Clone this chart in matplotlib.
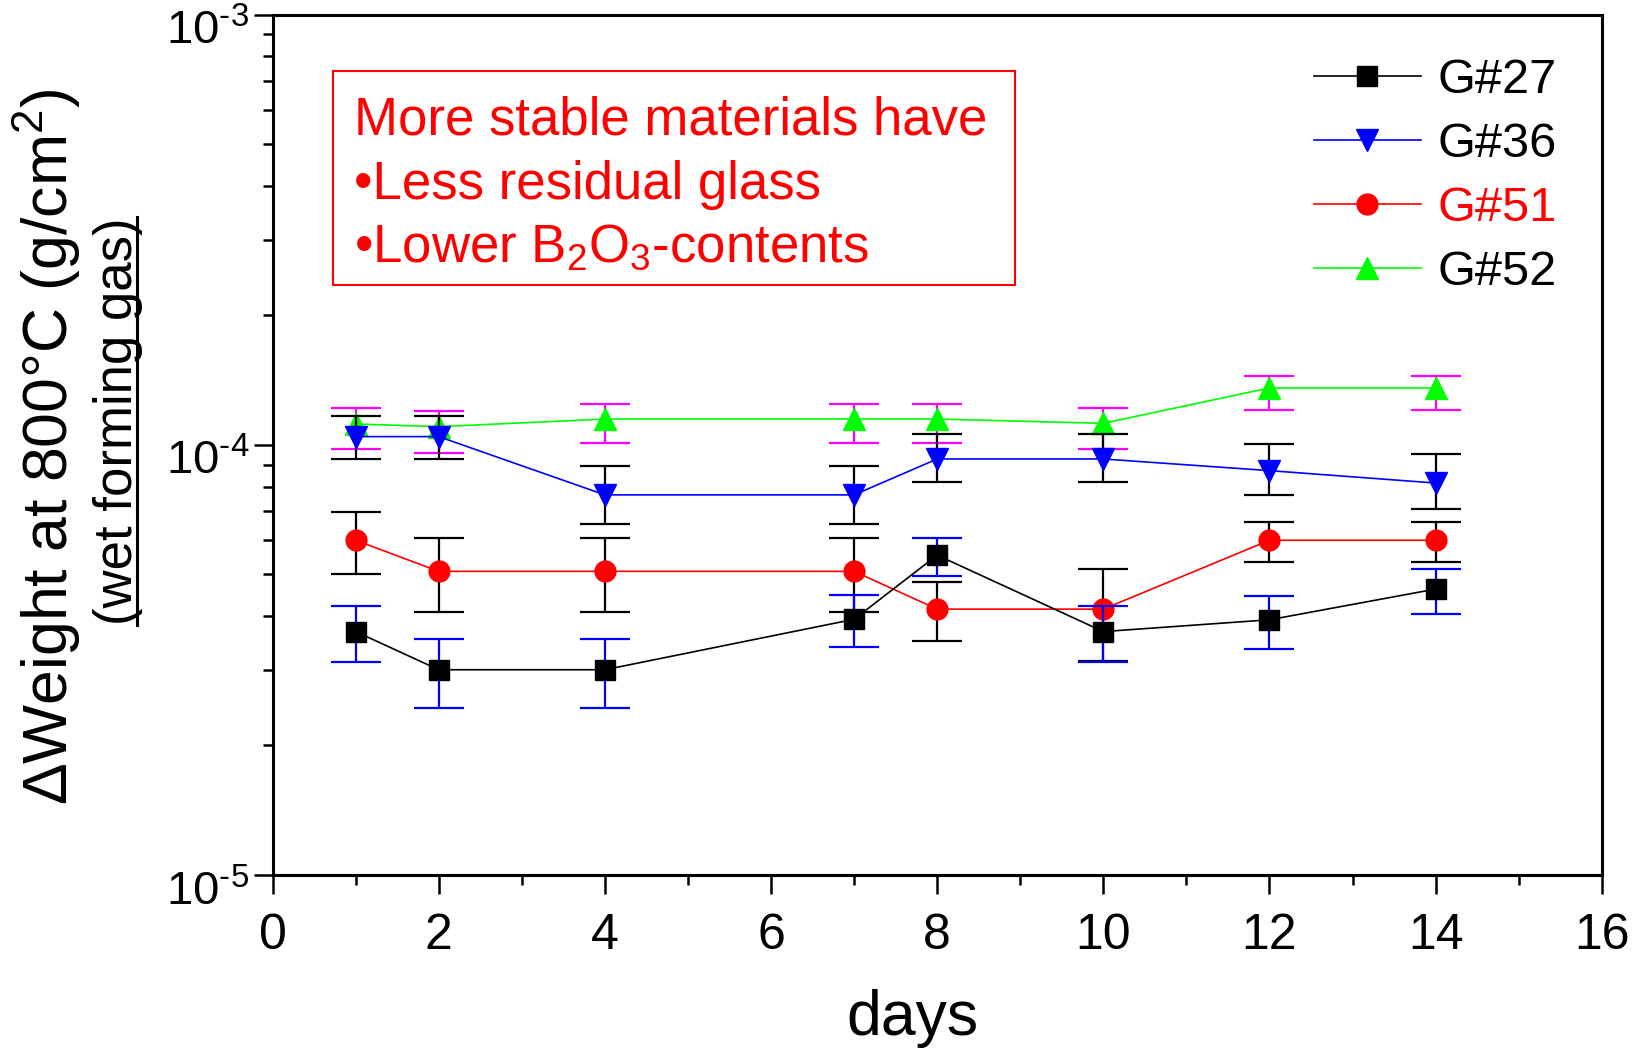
import matplotlib
matplotlib.use('Agg')
import matplotlib.pyplot as plt
import matplotlib.transforms as mtransforms
from matplotlib.ticker import MultipleLocator, NullFormatter, LogLocator, FuncFormatter
from matplotlib.lines import Line2D
from matplotlib.patches import Rectangle
import numpy as np

plt.rcParams['font.family'] = ['Liberation Sans', 'DejaVu Sans']
plt.rcParams['mathtext.fontset'] = 'custom'
plt.rcParams['mathtext.rm'] = 'Liberation Sans'
plt.rcParams['mathtext.it'] = 'Liberation Sans:italic'
plt.rcParams['mathtext.bf'] = 'Liberation Sans:bold'

# ---------------------------------------------------------------------------
# data
# ---------------------------------------------------------------------------
days = [1, 2, 4, 7, 8, 10, 12, 14]

g27    = [3.68e-5, 3.00e-5, 3.00e-5, 3.93e-5, 5.54e-5, 3.68e-5, 3.92e-5, 4.62e-5]
g27_lo = [3.13e-5, 2.44e-5, 2.44e-5, 3.38e-5, 4.96e-5, 3.13e-5, 3.35e-5, 4.04e-5]
g27_hi = [4.23e-5, 3.54e-5, 3.54e-5, 4.48e-5, 6.07e-5, 4.23e-5, 4.45e-5, 5.15e-5]

g36    = [1.045e-4, 1.045e-4, 7.65e-5, 7.65e-5, 9.27e-5, 9.27e-5, 8.71e-5, 8.15e-5]
g36_lo = [9.27e-5, 9.27e-5, 6.55e-5, 6.55e-5, 8.19e-5, 8.19e-5, 7.65e-5, 7.09e-5]
g36_hi = [1.167e-4, 1.167e-4, 8.93e-5, 8.93e-5, 1.061e-4, 1.061e-4, 1.005e-4, 9.51e-5]

g51    = [6.00e-5, 5.08e-5, 5.08e-5, 5.08e-5, 4.15e-5, 4.15e-5, 6.00e-5, 6.00e-5]
g51_lo = [5.00e-5, 4.08e-5, 4.08e-5, 4.08e-5, 3.49e-5, 3.15e-5, 5.35e-5, 5.35e-5]
g51_hi = [6.98e-5, 6.08e-5, 6.08e-5, 6.08e-5, 4.79e-5, 5.15e-5, 6.63e-5, 6.63e-5]

g52    = [1.118e-4, 1.102e-4, 1.148e-4, 1.148e-4, 1.148e-4, 1.122e-4, 1.356e-4, 1.356e-4]
g52_lo = [9.76e-5, 9.59e-5, 1.008e-4, 1.008e-4, 1.008e-4, 9.76e-5, 1.205e-4, 1.205e-4]
g52_hi = [1.216e-4, 1.199e-4, 1.246e-4, 1.246e-4, 1.247e-4, 1.216e-4, 1.447e-4, 1.447e-4]

labels = ['G#27', 'G#36', 'G#51', 'G#52']
note_lines = ['More stable materials have',
              '\u2022Less residual glass',
              '\u2022Lower B$_2$O$_3$-contents']

# style per series: line colour, marker, marker size, error-bar colour
SERIES = [
    (g27, g27_lo, g27_hi, '#000000', 's', 14, '#0000ff'),
    (g36, g36_lo, g36_hi, '#0000ff', 'v', 16, '#000000'),
    (g51, g51_lo, g51_hi, '#ff0000', 'o', 15, '#000000'),
    (g52, g52_lo, g52_hi, '#00ff00', '^', 16, '#ff00ff'),
]
ZORD = [5, 4, 3, 2]

fig = plt.figure(figsize=(16.41, 10.49), dpi=100)
ax = fig.add_axes([0.1661, 0.1659, 0.8100, 0.8201])

handles = []
for (vals, lo, hi, col, mk, ms, ecol), lab, z in zip(SERIES, labels, ZORD):
    err = [[v - l for v, l in zip(vals, lo)], [h - v for v, h in zip(vals, hi)]]
    ax.errorbar(days, vals, yerr=err, fmt='none', ecolor=ecol,
                elinewidth=1.6, capsize=18, capthick=1.6, zorder=z)
    ln, = ax.plot(days, vals, color=col, lw=1.2, marker=mk, ms=ms,
                  mfc=col, mec=col, label=lab, zorder=z + 0.5)
    handles.append(ln)

ax.set_yscale('log')
ax.set_ylim(1e-5, 1e-3)
ax.set_xlim(0, 16)
ax.xaxis.set_major_locator(MultipleLocator(2))
ax.xaxis.set_minor_locator(MultipleLocator(1))
ax.yaxis.set_minor_locator(LogLocator(base=10, subs=range(2, 10)))
ax.yaxis.set_minor_formatter(NullFormatter())
ax.yaxis.set_major_formatter(
    FuncFormatter(lambda v, pos: r'$10^{\text{-%d}}$' % int(round(-np.log10(v)))))

for s in ax.spines.values():
    s.set_linewidth(2.2)
ax.tick_params(which='major', direction='out', length=13.7, width=1.8)
ax.tick_params(which='minor', direction='out', length=7.5, width=1.8)
ax.tick_params(axis='x', labelsize=36, pad=14)
ax.tick_params(axis='y', labelsize=34, pad=3)

# y tick labels sit a little below their ticks in the original
shift = mtransforms.ScaledTranslation(0, -9 / 72, fig.dpi_scale_trans)
for t in ax.get_yticklabels():
    t.set_transform(t.get_transform() + shift)

ax.set_xlabel('days', fontsize=45)
ax.xaxis.set_label_coords(0.4811, -0.133)

leg = ax.legend(handles=handles, loc='upper right',
                bbox_to_anchor=(0.9664, 0.950), frameon=False,
                fontsize=35, handlelength=2.2, handletextpad=0.35,
                labelspacing=0.39, borderpad=0, borderaxespad=0, numpoints=1)
leg.get_texts()[2].set_color('#ff0000')

# note box
ax.add_patch(Rectangle((0.0455, 0.6858), 0.5131, 0.2488, transform=ax.transAxes,
                       fc='white', ec='#ff0000', lw=1.5, zorder=10))
for txt, yb in zip(note_lines, [0.8613, 0.7858, 0.7125]):
    ax.text(0.0615, yb, txt, transform=ax.transAxes, ha='left', va='baseline',
            fontsize=38, color='#ff0000', zorder=11)

# y label (two lines, the second one underlined)
fig.text(0.0286, 0.5739, '\u0394Weight at 800\u00b0C (g/cm$^2$)',
         rotation=90, ha='center', va='center', fontsize=45)
sub = fig.text(0.0719, 0.5987, '(wet forming gas)',
               rotation=90, ha='center', va='center', fontsize=38)

fig.canvas.draw()
bb = sub.get_window_extent(fig.canvas.get_renderer())
W, H = fig.bbox.width, fig.bbox.height
ux = (bb.x1 - 0.12 * 38 * 100 / 72) / W
fig.add_artist(Line2D([ux, ux], [bb.y0 / H, bb.y1 / H],
                      transform=fig.transFigure, color='black', lw=2.2))

fig.savefig('out.png', dpi=100, facecolor='white')
